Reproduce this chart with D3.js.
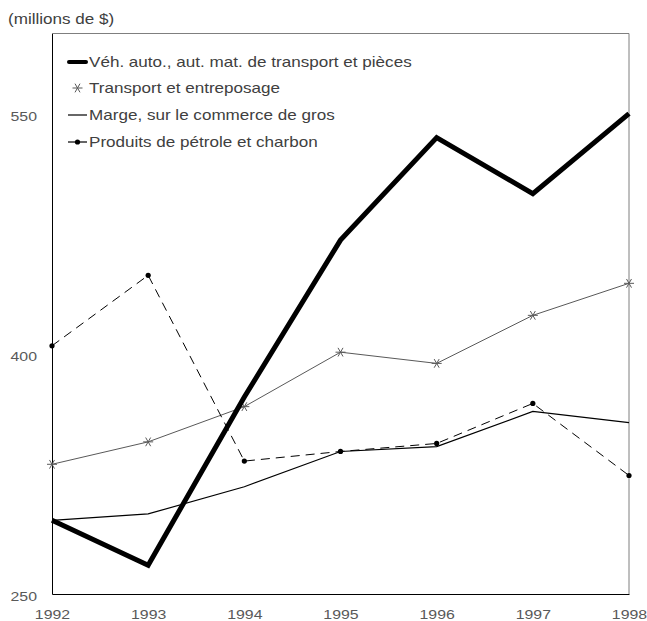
<!DOCTYPE html>
<html>
<head>
<meta charset="utf-8">
<script src="https://cdn.jsdelivr.net/npm/d3@7"></script>
<style>
  body { margin: 0; background: #fff; }
  text { font-family: "Liberation Sans", Arial, sans-serif; }
</style>
</head>
<body>
<div id="chart_div"></div>
<script>
// data
const years = [1992, 1993, 1994, 1995, 1996, 1997, 1998];
const vehicules = [296, 268, 373, 471, 535, 500, 550];
const transport = [331, 345, 367, 401, 394, 424, 444];
const marge = [296, 300, 317, 339, 342, 364, 357];
const petrole = [405, 449, 333, 339, 344, 369, 324];
const yTicks = [250, 400, 550];

const labels = [
  "Véh. auto., aut. mat. de transport et pièces",
  "Transport et entreposage",
  "Marge, sur le commerce de gros",
  "Produits de pétrole et charbon"
];

const width = 647, height = 621;
const margin = {top: 33.5, right: 18, bottom: 27, left: 52};
const stretch = 1.22;   // text in the original is drawn a bit wide

const svg = d3.select("#chart_div")
  .append("svg")
    .attr("width", width)
    .attr("height", height);

const x = d3.scaleLinear()
  .domain([1992, 1998])
  .range([margin.left, width - margin.right]);

const y = d3.scaleLinear()
  .domain([250, 600])
  .range([height - margin.bottom, margin.top]);

// frame
svg.append("line")
  .attr("x1", x(1992)).attr("x2", x(1998))
  .attr("y1", y(600)).attr("y2", y(600))
  .style("stroke", "#7f7f7f").style("stroke-width", 1);
svg.append("line")
  .attr("x1", x(1998)).attr("x2", x(1998))
  .attr("y1", y(600)).attr("y2", y(250))
  .style("stroke", "#7f7f7f").style("stroke-width", 1);

// axes
const yAxis = svg.append("g")
  .attr("transform", `translate(${x(1992)},0)`)
  .call(d3.axisLeft(y).tickValues(yTicks).tickSize(0).tickPadding(0));
yAxis.select(".domain").style("stroke", "#000");
yAxis.selectAll("text")
  .attr("x", -15 / stretch)
  .attr("dy", "0.5em")
  .attr("transform", `scale(${stretch},1)`)
  .style("font-size", "13px").style("fill", "#595959")
  .style("font-family", "Liberation Sans, Arial, sans-serif");

const xAxis = svg.append("g")
  .attr("transform", `translate(0,${y(250)})`)
  .call(d3.axisBottom(x).tickValues(years).tickFormat(d3.format("d")).tickSize(0).tickPadding(16));
xAxis.select(".domain").style("stroke", "#000");
xAxis.selectAll("text")
  .attr("transform", `scale(${stretch},1)`)
  .style("font-size", "13px").style("fill", "#595959")
  .style("font-family", "Liberation Sans, Arial, sans-serif");

// unit label
svg.append("text")
  .attr("transform", `translate(8,24) scale(${stretch},1)`)
  .text("(millions de $)")
  .style("font-size", "14px").style("fill", "#404040");

const line = d3.line()
  .x(d => x(d[0]))
  .y(d => y(d[1]));

const pairs = vals => years.map((yr, i) => [yr, vals[i]]);

// Marge
svg.append("path")
  .attr("d", line(pairs(marge)))
  .style("fill", "none").style("stroke", "#000").style("stroke-width", 1.2);

// Transport
svg.append("path")
  .attr("d", line(pairs(transport)))
  .style("fill", "none").style("stroke", "#595959").style("stroke-width", 1);

// star marker: horizontal bar plus two diagonals
const star = (g, cx, cy, r) => {
  [0, 60, 120].forEach(a => {
    const rad = a * Math.PI / 180;
    g.append("line")
      .attr("x1", cx - r * Math.cos(rad)).attr("y1", cy - r * Math.sin(rad))
      .attr("x2", cx + r * Math.cos(rad)).attr("y2", cy + r * Math.sin(rad))
      .style("stroke", "#595959").style("stroke-width", 1);
  });
};
const starG = svg.append("g");
pairs(transport).forEach(d => star(starG, x(d[0]), y(d[1]), 5));

// Petrole
svg.append("path")
  .attr("d", line(pairs(petrole)))
  .style("fill", "none").style("stroke", "#000").style("stroke-width", 1)
  .style("stroke-dasharray", "9,6");
svg.selectAll(".dot")
  .data(pairs(petrole))
  .join("circle")
    .attr("class", "dot")
    .attr("cx", d => x(d[0]))
    .attr("cy", d => y(d[1]))
    .attr("r", 2.6)
    .style("fill", "#000");

// Vehicules
svg.append("path")
  .attr("d", line(pairs(vehicules)))
  .style("fill", "none").style("stroke", "#000").style("stroke-width", 5)
  .style("stroke-linejoin", "miter");

// legend
const legY = [62, 88, 115, 142];
const legX1 = 68, legX2 = 87;
const leg = svg.append("g");
legY.forEach((ly, i) => {
  if (i === 0) {
    leg.append("line").attr("x1", legX1 + 1).attr("x2", legX2 - 1).attr("y1", ly).attr("y2", ly)
      .style("stroke", "#000").style("stroke-width", 4).style("stroke-linecap", "round");
  } else if (i === 1) {
    star(leg, (legX1 + legX2) / 2, ly, 5);
  } else if (i === 2) {
    leg.append("line").attr("x1", legX1).attr("x2", legX2).attr("y1", ly).attr("y2", ly)
      .style("stroke", "#000").style("stroke-width", 1.2);
  } else {
    leg.append("line").attr("x1", legX1).attr("x2", legX2).attr("y1", ly).attr("y2", ly)
      .style("stroke", "#000").style("stroke-width", 1.2);
    leg.append("circle").attr("cx", (legX1 + legX2) / 2).attr("cy", ly).attr("r", 2.6)
      .style("fill", "#000");
  }
  leg.append("text")
    .attr("transform", `translate(${legX2 + 2},${ly}) scale(${stretch},1)`)
    .attr("dy", "0.35em")
    .text(labels[i])
    .style("font-size", "14px").style("fill", "#404040");
});
</script>
</body>
</html>
